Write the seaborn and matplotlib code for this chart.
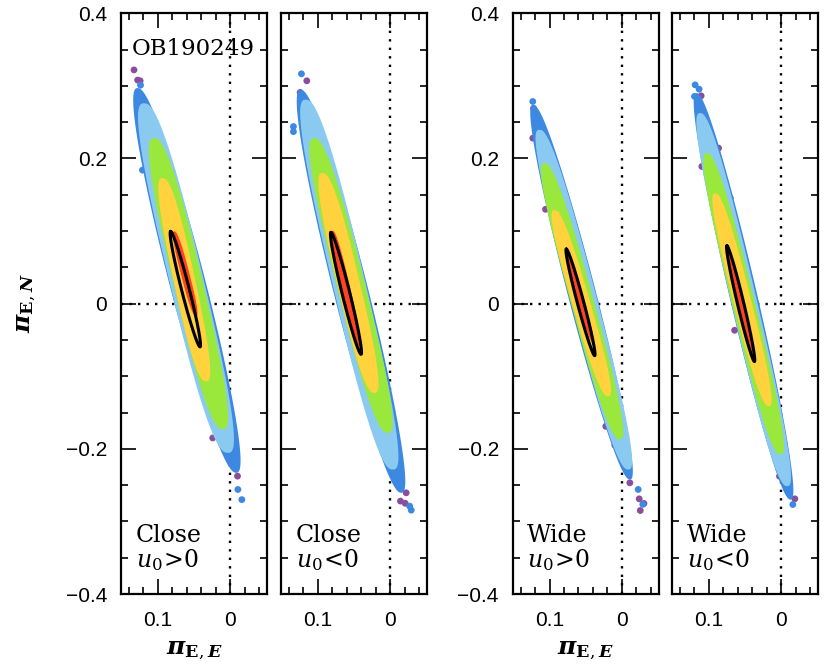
import numpy as np
import pandas as pd
import matplotlib
matplotlib.use("Agg")
import matplotlib.pyplot as plt
import seaborn as sns
from matplotlib.ticker import MultipleLocator, FixedLocator, FuncFormatter

# ---------------- data ----------------
PANEL_LABELS = ["Close\n$u_0\\!>\\!0$", "Close\n$u_0\\!<\\!0$",
                "Wide\n$u_0\\!>\\!0$", "Wide\n$u_0\\!<\\!0$"]
EVENT = "OB190249"

X_TICKS = [0.1, 0.0]
Y_TICKS = [-0.4, -0.2, 0.0, 0.2, 0.4]

LEVELS = ["blue", "lightblue", "green", "yellow", "red"]
LEVEL_COLORS = {"purple": "#8a4f9c", "blue": "#3d88e0", "lightblue": "#8bcaf0",
                "green": "#9ae83c", "yellow": "#ffd23e", "red": "#ff4222"}

# per panel, per level: top end (x, y), bottom end (x, y), half width in pi_E,E
P1_TOP_X = [0.128, 0.119, 0.1051, 0.0935, 0.0773]
P1_TOP_Y = [0.297, 0.276, 0.228, 0.173, 0.0996]
P1_BOT_X = [-0.0083, 0.0032, 0.0102, 0.0333, 0.0472]
P1_BOT_Y = [-0.233, -0.2055, -0.173, -0.107, -0.0174]
P1_HW = [0.0255, 0.024, 0.0205, 0.015, 0.006]

P2_TOP_X = [0.1236, 0.1167, 0.1051, 0.0935, 0.0796]
P2_TOP_Y = [0.2946, 0.281, 0.228, 0.180, 0.1005]
P2_BOT_X = [-0.0153, -0.0037, 0.0032, 0.0218, 0.0426]
P2_BOT_Y = [-0.2606, -0.2285, -0.178, -0.123, -0.0587]
P2_HW = [0.0245, 0.023, 0.0197, 0.0158, 0.006]

P3_TOP_X = [0.1226, 0.1139, 0.107, 0.0931, 0.0768]
P3_TOP_Y = [0.274, 0.2395, 0.1936, 0.129, 0.072]
P3_BOT_X = [-0.0111, -0.0088, 0.0028, 0.019, 0.0399]
P3_BOT_Y = [-0.2423, -0.2285, -0.187, -0.1276, -0.0541]
P3_HW = [0.020, 0.0185, 0.0162, 0.0127, 0.0045]

P4_TOP_X = [0.117, 0.112, 0.1028, 0.0912, 0.075]
P4_TOP_Y = [0.29, 0.2625, 0.2074, 0.152, 0.0789]
P4_BOT_X = [-0.0129, -0.0083, 0.001, 0.0171, 0.0403]
P4_BOT_Y = [-0.27, -0.2514, -0.2078, -0.1413, -0.0679]
P4_HW = [0.0195, 0.018, 0.016, 0.0125, 0.0045]

# 1-sigma contour: centre, half major-axis vector, horizontal half width
ELL_CX = [0.062, 0.0611, 0.0572, 0.056]
ELL_CY = [0.020, 0.0142, 0.0018, 0.0]
ELL_MX = [0.0203, 0.0208, 0.0196, 0.019]
ELL_MY = [0.0796, 0.084, 0.0735, 0.0798]
ELL_W = [0.0055, 0.0055, 0.0046, 0.0045]

# scattered outlying chain points
P1_OUT_X = [0.133, 0.128, 0.1245, 0.0796, 0.0333, 0.0218, 0.0241, -0.0102, 0.124, 0.1213, -0.0107, -0.0162]
P1_OUT_Y = [0.322, 0.308, 0.307, 0.18, -0.006, -0.068, -0.185, -0.2376, 0.301, 0.184, -0.256, -0.27]
P1_OUT_C = ["purple"] * 8 + ["blue"] * 4

P2_OUT_X = [0.1153, 0.1245, -0.0222, -0.0143, -0.0208, 0.1227, 0.1338, 0.1338, -0.0292, -0.027]
P2_OUT_Y = [0.307, 0.291, -0.2606, -0.272, -0.275, 0.3166, 0.244, 0.237, -0.2845, -0.279]
P2_OUT_C = ["purple"] * 5 + ["blue"] * 5

P3_OUT_X = [0.1222, 0.1232, 0.0907, 0.0792, 0.1056, 0.0222, 0.0097, -0.0111, -0.024, -0.0306, -0.0255,
            0.1232, -0.029, -0.0226]
P3_OUT_Y = [0.269, 0.228, 0.187, 0.1477, 0.130, -0.169, -0.195, -0.2468, -0.2689, -0.2753, -0.285,
            0.2785, -0.2765, -0.256]
P3_OUT_C = ["purple"] * 11 + ["blue"] * 3

P4_OUT_X = [0.1107, 0.0866, 0.0912, 0.0704, 0.1097, 0.0644, -0.019, 0.0023, 0.119, 0.1135, 0.1199, -0.0162]
P4_OUT_Y = [0.2863, 0.2143, 0.2147, 0.1455, 0.189, -0.0367, -0.2689, -0.2377, 0.3014, 0.2955, 0.2855, -0.2767]
P4_OUT_C = ["purple"] * 8 + ["blue"] * 4

PANELS = [
    (P1_TOP_X, P1_TOP_Y, P1_BOT_X, P1_BOT_Y, P1_HW, P1_OUT_X, P1_OUT_Y, P1_OUT_C),
    (P2_TOP_X, P2_TOP_Y, P2_BOT_X, P2_BOT_Y, P2_HW, P2_OUT_X, P2_OUT_Y, P2_OUT_C),
    (P3_TOP_X, P3_TOP_Y, P3_BOT_X, P3_BOT_Y, P3_HW, P3_OUT_X, P3_OUT_Y, P3_OUT_C),
    (P4_TOP_X, P4_TOP_Y, P4_BOT_X, P4_BOT_Y, P4_HW, P4_OUT_X, P4_OUT_Y, P4_OUT_C),
]

XLIM = (0.151, -0.051)
YLIM = (-0.4, 0.4)

# ---------------- style ----------------
sns.set_theme(style="ticks")
plt.rcParams["font.family"] = ["Liberation Sans", "DejaVu Sans"]
plt.rcParams["mathtext.fontset"] = "dejavuserif"

fig = plt.figure(figsize=(8.3, 6.64), dpi=100)
lefts = [121, 281, 512.7, 672]
W, H = 830.0, 664.0
axes = []
T = np.linspace(0, 2 * np.pi, 400)
EXP = 0.75  # blunter (super-elliptic) outline of the point clouds
CT = np.sign(np.cos(T)) * np.abs(np.cos(T)) ** EXP
ST = np.sign(np.sin(T)) * np.abs(np.sin(T)) ** EXP


def tick_fmt(v, pos):
    if abs(v) < 1e-9:
        return "0"
    return ("%g" % v).replace("-", "\u2212")


for i, (tx, ty, bx, by, hw, ox, oy, oc) in enumerate(PANELS):
    ax = fig.add_axes([lefts[i] / W, (H - 594) / H, 146 / W, (594 - 13.3) / H])
    axes.append(ax)
    out = pd.DataFrame({"x": ox, "y": oy, "lev": oc})
    sns.scatterplot(data=out, x="x", y="y", hue="lev", palette=LEVEL_COLORS, s=24,
                    edgecolor="none", legend=False, ax=ax, zorder=2)
    for j, lev in enumerate(LEVELS):
        cx = 0.5 * (tx[j] + bx[j]); cy = 0.5 * (ty[j] + by[j])
        mx = 0.5 * (tx[j] - bx[j]); my = 0.5 * (ty[j] - by[j])
        if lev == "blue":
            c, s = np.cos(T), np.sin(T) ** 1
            s = np.sign(np.sin(T)) * np.abs(np.sin(T)) ** 0.85
        else:
            c, s = CT, ST
        ax.fill(cx + mx * c + hw[j] * s, cy + my * c,
                color=LEVEL_COLORS[lev], lw=0, zorder=3 + j)
    ax.plot(ELL_CX[i] + ELL_MX[i] * np.cos(T) + ELL_W[i] * np.sin(T),
            ELL_CY[i] + ELL_MY[i] * np.cos(T), color="black", lw=2.2, zorder=10)
    ax.axvline(0, color="black", lw=1.7, ls=(0, (1, 2.6)), zorder=1)
    ax.axhline(0, color="black", lw=1.7, ls=(0, (1, 2.6)), zorder=1)
    ax.set_xlim(*XLIM)
    ax.set_ylim(*YLIM)
    ax.xaxis.set_major_locator(FixedLocator(X_TICKS))
    ax.xaxis.set_minor_locator(MultipleLocator(0.02))
    ax.yaxis.set_major_locator(FixedLocator(Y_TICKS))
    ax.yaxis.set_minor_locator(MultipleLocator(0.05))
    ax.xaxis.set_major_formatter(FuncFormatter(tick_fmt))
    ax.yaxis.set_major_formatter(FuncFormatter(tick_fmt))
    ax.tick_params(which="both", direction="in", top=True, right=True, colors="black",
                   width=1.2)
    ax.tick_params(which="major", length=11)
    ax.tick_params(which="minor", length=5)
    ax.tick_params(axis="x", which="major", pad=12, labelsize=15)
    ax.tick_params(axis="y", which="major", pad=10, labelsize=15)
    if i not in (0, 2):
        ax.tick_params(axis="y", labelleft=False)
    for sp in ax.spines.values():
        sp.set_linewidth(1.6)
        sp.set_color("black")
    ax.set_xlabel(""); ax.set_ylabel("")
    ax.set_facecolor("white")
    ax.text(0.10, 0.046, PANEL_LABELS[i], transform=ax.transAxes, fontsize=17,
            family="DejaVu Serif", va="baseline", ha="left", linespacing=1.0,
            color="black", zorder=12)

axes[0].text(0.075, 0.928, EVENT, transform=axes[0].transAxes, fontsize=16.5,
             family="DejaVu Serif", va="baseline", ha="left", color="black", zorder=12)

xlab = r"$\mathbfit{\pi}_{\mathbf{E},\mathbfit{E}}$"
ylab = r"$\mathbfit{\pi}_{\mathbf{E},\mathbfit{N}}$"
for c in (194, 585.7):
    fig.text(c / W, (H - 654) / H, xlab, ha="center", va="baseline", fontsize=18, color="black")
fig.text(26 / W, (H - 303) / H, ylab, ha="center", va="center", rotation=90, fontsize=18,
         color="black")

fig.savefig("out.png", dpi=100, facecolor="white")
